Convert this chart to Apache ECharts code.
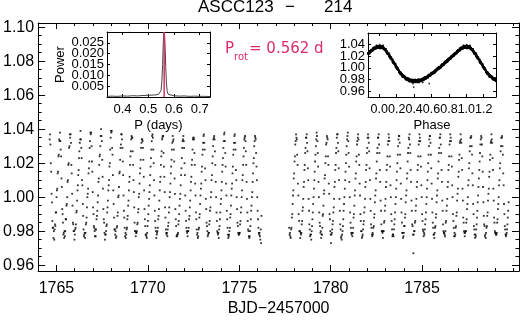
<!DOCTYPE html>
<html><head><meta charset="utf-8">
<script src="https://cdn.jsdelivr.net/npm/echarts@6/dist/echarts.min.js"></script>
<style>html,body{margin:0;padding:0;background:#fff}#c{width:520px;height:322px}</style>
</head><body><div id="c"></div>
<script>
// ---------------- data ----------------
const titleParts = ['ASCC123', '\u2212', '214'];
const xAxisName = 'BJD\u22122457000';
const prot = 0.562;            // rotation period (d)
const cadence = 1 / 48;        // 30-min sampling (d)
const seg1Start = 1764.63;     // first time of orbit 1
const seg2Start = 1777.73;     // first time of orbit 2
// flux offsets in units of 0.001 (flux = 1 + v/1000), one row ~ one sampled cycle
const seg1Flux = [
 34,37,31,20,15,2,-3,-14,-18,-18,-24,-20,-25,-19,-16,-17,-9,-9,0,4,5,14,15,24,25,34,33,
 38,33,28,24,11,6,-7,-10,-15,-22,-21,-24,-20,-23,-20,-13,-13,-5,-4,0,9,10,19,20,29,30,37,
 35,37,32,19,14,2,-5,-15,-16,-20,-20,-25,-22,-19,-18,-16,-9,-8,-2,4,7,13,16,23,27,32,34,
 39,34,29,23,10,7,-4,-11,-19,-23,-22,-21,-24,-21,-16,-15,-12,-6,0,2,5,14,17,21,29,33,38,
 37,38,30,21,15,3,-6,-10,-17,-18,-20,-23,-19,-23,-19,-13,-11,-8,-3,1,9,11,19,24,25,30,36,
 40,36,33,22,12,5,-7,-13,-15,-21,-25,-22,-22,-20,-17,-16,-9,-6,-2,4,7,10,18,20,28,35,39,
 38,39,29,25,13,4,-4,-12,-19,-19,-22,-20,-24,-23,-18,-17,-11,-9,0,1,6,14,15,22,29,31,37,
 37,34,29,21,13,1,-8,-12,-18,-23,-21,-24,-22,-19,-18,-13,-11,-5,-2,4,9,12,19,24,27,34,36,
 35,35,27,19,10,3,-6,-15,-20,-20,-23,-21,-21,-20,-16,-15,-9,-7,0,2,8,14,17,22,29,32,34,
 34,33,29,22,12,4,-7,-13,-17,-22,-22,-23,-24,-21,-17,-14,-10,-5,-1,3,7,13,18,23,28,33,36,
 37,35,28,20,10,1,-8,-14,-18,-20,-24,-22,-21,-20,-18,-13,-11,-7,-2,4,9,12,19,24,27,34,35,
 36,36,26,18,12,3,-6,-12,-19,-21,-22,-21,-23,-19,-17,-15,-9,-6,0,3,8,14,18,22,28,32,36,
 33,34,28,21,11,2,-7,-13,-17,-23,-23,-22,-22,-21,-16,-14,-10,-5,-1,2,7,13,17,23,29,33,34,
 36,33,29,20,13,1,-8,-14,-18,-20,-21,-23,-20,-20,-18,-13,-11,-6,-2,4,9,12,19,22,28,34,35,
 35,34,26,19,8,1,-9,-13,-19,-22,-21,-24,-23,-19,-18,-12,-10,-4,1,5,8,15,18,25,28,32,36,
 37,32,28,17,10,-1,-7,-15,-17,-20,-23,-22,-21,-21,-16,-14,-8,-6,0,3,10,13,20,24,30,34,35,
 36,34,27,19,9,0,-9,-14,-20,-21,-22,-21,-24,-19,-17,-13,-9,-4,-1,4,9,15,19,23,29,33,37,
 38,33,26,18,8,1,-8,-13,-18,-22,-24,-23,-22,-20,-18,-12,-10,-5,1,5,8,14,18,25,28,32,36,
 37,32,28,16,10,0,-7,-15,-17,-21,-22,-22,-21,-21,-16,-14,-9,-6,0,4,10,13,19,24,29,34,35,
 36,33,27,19,9,-1,-9,-14,-19,-20,-23,-24,-23,-20,-17,-13,-8,-5,0,3,9,14,20,23,30,33,36,
 35,34,26,18,10,0,-8,-13,-18,-21,-22,-21,-23,-25,-19,-27,-11
];
const seg2Flux = [
 -18,-22,-21,-23,-24,-19,-18,-12,-10,-4,1,4,11,14,21,24,31,33,37,35,34,25,19,8,1,-10,-14,
 -20,-20,-24,-21,-22,-21,-16,-14,-8,-6,-1,6,9,16,19,26,29,35,35,37,32,27,17,10,-1,-8,-16,
 -19,-23,-22,-22,-25,-20,-17,-13,-9,-4,0,5,10,15,21,25,30,34,38,36,33,26,18,9,0,-9,-15,
 -17,-21,-20,-24,-22,-22,-18,-11,-10,-5,2,4,11,13,20,24,31,32,36,35,34,24,19,8,2,-10,-13,
 -20,-22,-27,-22,-21,-19,-16,-14,-9,-6,-1,6,9,16,19,26,29,35,37,37,32,27,17,10,-1,-8,-16,
 -19,-24,-23,-25,-22,-20,-17,-13,-8,-4,0,5,10,15,20,25,30,34,36,38,33,26,18,9,0,-9,-15,
 -18,-21,-22,-21,-23,-21,-18,-12,-10,-5,1,4,11,14,21,24,31,33,35,37,34,25,19,8,1,-10,-14,
 -20,-20,-24,-23,-22,-19,-16,-14,-9,-6,-1,6,9,16,19,26,29,35,37,35,32,27,17,10,-1,-8,-16,
 -18,-22,-23,-21,-22,-18,-17,-12,-10,-3,1,4,11,14,21,26,29,35,35,37,31,26,16,9,-2,-8,-16,
 -20,-20,-21,-24,-20,-20,-15,-14,-8,-5,-1,6,9,16,19,24,31,33,37,35,33,24,18,7,0,-10,-14,
 -19,-23,-22,-22,-23,-19,-16,-13,-9,-4,0,5,10,15,20,25,30,34,36,36,32,25,17,8,-1,-9,-15,
 -21,-21,-24,-23,-21,-17,-17,-12,-10,-3,1,4,11,14,21,26,29,35,34,37,31,26,16,9,-2,-8,-16,
 -17,-22,-33,-22,-20,-20,-15,-14,-8,-5,-1,6,9,16,19,24,31,33,37,35,33,24,18,7,0,-10,-14,
 -19,-20,-23,-21,-22,-19,-16,-13,-9,-4,0,5,10,15,20,25,30,34,36,36,32,25,17,8,-1,-9,-15,
 -18,-22,-22,-24,-21,-18,-17,-12,-10,-3,1,4,11,14,21,26,29,35,35,37,31,26,16,9,-2,-8,-16,
 -20,-21,-21,-22,-23,-20,-15,-14,-8,-5,-1,6,9,16,19,24,31,33,37,35,33,24,18,7,0,-10,-14,
 -18,-23,-21,-23,-22,-18,-17,-11,-9,-2,2,5,12,15,22,25,32,33,37,34,32,23,16,5,-2,-12,-15,
 -20,-21,-23,-21,-20,-20,-15,-13,-7,-4,0,7,10,17,20,27,30,35,35,36,30,25,14,7,-4,-10,-17,
 -19,-22,-24,-22,-23,-19,-16,-12,-8,-3,1,6,11,16,21,26,31,34,36,35,31,24,15,6,-3,-11,-16,
 -17,-23,-22,-24,-21,-18,-17,-11,-9,-2,2,5,12,15,22,25,32,33,37,34,32,23,16,5,-2,-12,-15,
 -20,-21,-21,-22,-22,-21,-15,-13,-7,-4,0,7,10,17,20,27,30,35,35,36,30,25,14,7,-4,-10,-17,
 -19,-22,-23,-22,-21,-19,-16,-12,-8,-3
];
// periodogram (period in days, power)
const perPeriod = [0.34,0.36,0.38,0.40,0.42,0.44,0.46,0.48,0.50,0.52,0.53,0.54,0.545,0.55,0.553,0.556,0.558,0.560,0.562,0.564,0.566,0.568,0.571,0.574,0.578,0.585,0.60,0.62,0.64,0.66,0.68,0.70,0.72,0.74];
const perPower  = [0.0003,0.0004,0.0003,0.0005,0.0004,0.0006,0.0005,0.0007,0.0008,0.0009,0.0010,0.0012,0.0015,0.0030,0.0070,0.0150,0.0230,0.0285,0.0300,0.0280,0.0220,0.0140,0.0060,0.0025,0.0012,0.0008,0.0006,0.0004,0.0005,0.0003,0.0004,0.0003,0.0003,0.0002];
// ticks
const xMajor = [1765,1770,1775,1780,1785];
const xMinor = [1764,1766,1767,1768,1769,1771,1772,1773,1774,1776,1777,1778,1779,1781,1782,1783,1784,1786,1787,1788,1789,1790];
const yMajor = [0.96,0.98,1.00,1.02,1.04,1.06,1.08,1.10];
const yMinor = [0.965,0.97,0.975,0.985,0.99,0.995,1.005,1.01,1.015,1.025,1.03,1.035,1.045,1.05,1.055,1.065,1.07,1.075,1.085,1.09,1.095];
const pTicks = [0.4,0.5,0.6,0.7];
const powTicks = [0.005,0.010,0.015,0.020,0.025];
const phTicks = [0.0,0.2,0.4,0.6,0.8,1.0,1.2];
const phFluxTicks = [0.96,0.98,1.00,1.02,1.04];

// ---------------- build ----------------
const lc = [];
seg1Flux.forEach((v,i)=>lc.push([seg1Start + i*cadence, 1 + v/1000]));
seg2Flux.forEach((v,i)=>lc.push([seg2Start + i*cadence, 1 + v/1000]));
const phX = [-0.13, 1.341];
const ph = [];
lc.forEach(([t,f])=>{
  let p = ((t - seg1Start)/prot) % 1; if (p < 0) p += 1;
  ph.push([p,f]);
  if (p + 1 <= phX[1]) ph.push([p+1,f]);
  if (p - 1 >= phX[0]) ph.push([p-1,f]);
});
const per = perPeriod.map((p,i)=>[p, perPower[i]]);
// split tightly packed labels over two axes so none is auto-hidden
const even = a => a.filter((_,i)=>i%2===0);
const odd  = a => a.filter((_,i)=>i%2===1);

const FF = '"Liberation Sans", Arial, sans-serif';
const black = '#000';
const pink = '#dc2a6c';
const noLine = {show:false, onZero:false};
function ax(grid, pos, min, max, ticks, len, extra){
  return Object.assign({
    type:'value', gridIndex:grid, position:pos, min:min, max:max,
    axisLine:{show:true, onZero:false, lineStyle:{color:black,width:1}},
    axisTick:{show:true, inside:true, length:len, customValues:ticks, lineStyle:{color:black,width:1}},
    axisLabel:{show:false},
    splitLine:{show:false}
  }, extra||{});
}
function lab(ticks, size, margin, fmt){
  return {show:true, customValues:ticks, fontSize:size, color:black, margin:margin, fontFamily:FF,
          formatter:fmt, hideOverlap:false, showMinLabel:true, showMaxLabel:true};
}
const chart = echarts.init(document.getElementById('c'), null, {renderer:'canvas'});
const xAxes = [
  ax(0,'bottom',1764,1790.3,xMajor,6,{axisLabel:lab(xMajor,16,9,v=>v.toFixed(0)),
      name:xAxisName,nameLocation:'middle',nameGap:27,nameTextStyle:{fontSize:16,color:black,fontFamily:FF}}),
  ax(0,'bottom',1764,1790.3,xMinor,3,{axisLine:noLine}),
  ax(0,'top',1764,1790.3,xMajor,6),
  ax(0,'top',1764,1790.3,xMinor,3,{axisLine:noLine}),
  ax(1,'bottom',0.34,0.74,pTicks,3,{axisLabel:lab(pTicks,13,6,v=>v.toFixed(1)),
      name:'P (days)',nameLocation:'middle',nameGap:22,nameTextStyle:{fontSize:13,color:black,fontFamily:FF}}),
  ax(1,'top',0.34,0.74,pTicks,3),
  ax(2,'bottom',phX[0],phX[1],even(phTicks),3,{axisLabel:lab(even(phTicks),12.5,6,v=>v.toFixed(1)),
      name:'Phase',nameLocation:'middle',nameGap:22,nameTextStyle:{fontSize:13,color:black,fontFamily:FF}}),
  ax(2,'bottom',phX[0],phX[1],odd(phTicks),3,{axisLine:noLine,axisLabel:lab(odd(phTicks),12.5,6,v=>v.toFixed(1))}),
  ax(2,'top',phX[0],phX[1],phTicks,3)
];
const yAxes = [
  ax(0,'left',0.9565,1.1025,yMajor,7,{axisLabel:lab(yMajor,16,4,v=>v.toFixed(2))}),
  ax(0,'left',0.9565,1.1025,yMinor,3.5,{axisLine:noLine}),
  ax(0,'right',0.9565,1.1025,yMajor,7),
  ax(0,'right',0.9565,1.1025,yMinor,3.5,{axisLine:noLine}),
  ax(1,'left',0,0.03,even(powTicks),3,{axisLabel:lab(even(powTicks),13,3,v=>v.toFixed(3)),
      name:'Power',nameLocation:'middle',nameGap:40,nameRotate:90,nameTextStyle:{fontSize:13,color:black,fontFamily:FF}}),
  ax(1,'left',0,0.03,odd(powTicks),3,{axisLine:noLine,axisLabel:lab(odd(powTicks),13,3,v=>v.toFixed(3))}),
  ax(1,'right',0,0.03,powTicks,3),
  ax(2,'left',0.95,1.06,even(phFluxTicks),3,{axisLabel:lab(even(phFluxTicks),13,3,v=>v.toFixed(2))}),
  ax(2,'left',0.95,1.06,odd(phFluxTicks),3,{axisLine:noLine,axisLabel:lab(odd(phFluxTicks),13,3,v=>v.toFixed(2))}),
  ax(2,'right',0.95,1.06,phFluxTicks,3)
];
chart.setOption({
  animation:false,
  backgroundColor:'#fff',
  grid:[
    {left:37, top:23, width:482, height:257},
    {left:107, top:32, width:103, height:65},
    {left:368, top:33, width:128, height:64}
  ],
  xAxis:xAxes,
  yAxis:yAxes,
  series:[
    {type:'scatter', xAxisIndex:0, yAxisIndex:0, data:lc, symbol:'rect', symbolSize:1.8, itemStyle:{color:black}, silent:true},
    {type:'line', xAxisIndex:4, yAxisIndex:4, data:per, showSymbol:false, lineStyle:{color:'#444',width:1}, silent:true},
    {type:'line', xAxisIndex:4, yAxisIndex:4, data:[[prot,0],[prot,0.03]], showSymbol:false, lineStyle:{color:pink,width:1.5}, silent:true},
    {type:'scatter', xAxisIndex:6, yAxisIndex:7, data:ph, symbol:'rect', symbolSize:1.6, itemStyle:{color:black}, silent:true}
  ],
  graphic:[
    {type:'text', x:198, y:16, style:{text:titleParts[0], font:'17px '+FF, fill:black, align:'left', verticalAlign:'bottom'}},
    {type:'text', x:290, y:16, style:{text:titleParts[1], font:'17px '+FF, fill:black, align:'center', verticalAlign:'bottom'}},
    {type:'text', x:324, y:16, style:{text:titleParts[2], font:'17px '+FF, fill:black, align:'left', verticalAlign:'bottom'}},
    {type:'text', x:225, y:57, style:{text:'P', font:'15px "DejaVu Sans", sans-serif', fill:pink, align:'left', verticalAlign:'bottom'}},
    {type:'text', x:234, y:62, style:{text:'rot', font:'10px "DejaVu Sans", sans-serif', fill:pink, align:'left', verticalAlign:'bottom'}},
    {type:'text', x:249, y:57, style:{text:'= 0.562 d', font:'15px "DejaVu Sans", sans-serif', fill:pink, align:'left', verticalAlign:'bottom'}}
  ]
});
</script></body></html>
